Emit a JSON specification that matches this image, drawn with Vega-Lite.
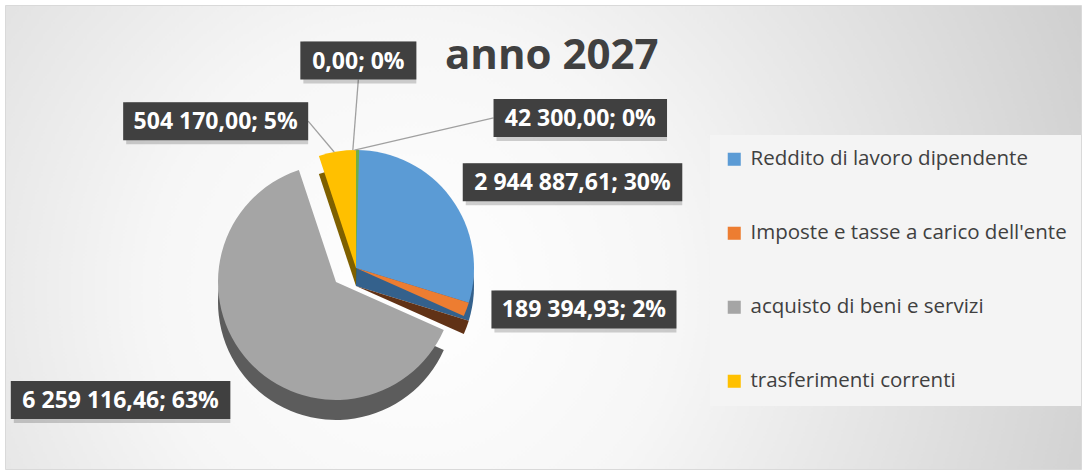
{
  "$schema": "https://vega.github.io/schema/vega-lite/v6.json",
  "width": 1076,
  "height": 464,
  "autosize": "none",
  "padding": {"left": 5, "top": 5, "right": 5, "bottom": 5},
  "background": "#ffffff",
  "title": {
    "text": "anno 2027",
    "anchor": "start",
    "frame": "group",
    "dx": 440,
    "offset": -106,
    "baseline": "alphabetic",
    "font": "Open Sans",
    "fontSize": 42,
    "fontWeight": "bold",
    "color": "#404040"
  },
  "config": {
    "locale": {"number": {"decimal": ",", "thousands": " ", "grouping": [3], "currency": ["", " €"]}},
    "font": "Open Sans",
    "view": {
      "fill": {
        "gradient": "radial",
        "x1": 0.38, "y1": 0.55, "r1": 0,
        "x2": 0.38, "y2": 0.55, "r2": 0.82,
        "stops": [
          {"offset": 0, "color": "#ffffff"},
          {"offset": 0.3, "color": "#f6f6f6"},
          {"offset": 1, "color": "#c2c2c2"}
        ]
      },
      "stroke": "#d9d9d9",
      "strokeWidth": 1
    }
  },
  "data": {
    "values": [
      {"cat": "Reddito di lavoro dipendente", "value": 2944887.61, "idx": 1},
      {"cat": "Imposte e tasse a carico dell'ente", "value": 189394.93, "idx": 2},
      {"cat": "acquisto di beni e servizi", "value": 6259116.46, "idx": 3},
      {"cat": "trasferimenti correnti", "value": 504170.00, "idx": 4},
      {"cat": "interessi passivi", "value": 0, "idx": 5},
      {"cat": "altre spese correnti", "value": 42300.00, "idx": 6}
    ]
  },
  "transform": [
    {"joinaggregate": [{"op": "sum", "field": "value", "as": "total"}]},
    {"window": [{"op": "sum", "field": "value", "as": "cum"}], "sort": [{"field": "idx", "order": "ascending"}], "frame": [null, 0]},
    {"calculate": "datum.cum - datum.value", "as": "cum0"},
    {"calculate": "(datum.cum - datum.value / 2) / datum.total * 2 * PI", "as": "mid"},
    {"calculate": "format(datum.value, ',.2f') + '; ' + format(datum.value / datum.total, '.0%')", "as": "label"},
    {"calculate": "datum.idx === 1 ? 8 : datum.idx === 2 ? -6 : datum.idx === 3 ? 6 : datum.idx === 4 ? -24 : datum.idx === 5 ? 2 : 48", "as": "nudge"},
    {"calculate": "datum.idx === 1 ? 1.05 : datum.idx === 2 ? 1 : datum.idx === 3 ? 1.15 : datum.idx === 4 ? 1.05 : datum.idx === 5 ? 1.22 : 1.3", "as": "f"},
    {"calculate": "datum.mid + datum.nudge * PI / 180", "as": "a"},
    {"calculate": "235 * datum.f * sin(datum.a) + (datum.idx === 3 ? -20 : 0)", "as": "lx"},
    {"calculate": "170 * datum.f * cos(datum.a) + (datum.idx === 3 ? -14 : 0)", "as": "ly"},
    {"calculate": "11.5 * length(datum.label) + 24", "as": "w"},
    {"calculate": "datum.lx - datum.w / 2", "as": "bx1"},
    {"calculate": "datum.lx + datum.w / 2", "as": "bx2"},
    {"calculate": "datum.ly - 19", "as": "by1"},
    {"calculate": "datum.ly + 19", "as": "by2"},
    {"calculate": "118 * sin(datum.mid)", "as": "sx"},
    {"calculate": "118 * cos(datum.mid)", "as": "sy"},
    {"calculate": "abs(sin(datum.a)) < 0.2 ? datum.lx : (sin(datum.a) > 0 ? datum.bx1 : datum.bx2)", "as": "ex2"},
    {"calculate": "abs(sin(datum.a)) < 0.2 ? datum.by1 : datum.ly", "as": "ey2"}
  ],
  "layer": [
    {
      "transform": [{"filter": "datum.idx !== 3"}],
      "mark": {"type": "arc", "radius": 118, "yOffset": 18},
      "encoding": {
        "theta": {"field": "cum0", "type": "quantitative"},
        "theta2": {"field": "cum"},
        "x": {"datum": 0, "type": "quantitative", "scale": {"domain": [-351, 725], "nice": false, "zero": false}, "axis": null},
        "y": {"datum": 0, "type": "quantitative", "scale": {"domain": [-201, 263], "nice": false, "zero": false}, "axis": null},
        "fill": {
          "field": "idx", "type": "nominal", "legend": null,
          "scale": {
            "domain": [1, 2, 3, 4, 5, 6],
            "range": ["#34618c", "#613216", "#5c5c5c", "#7f6000", "#203864", "#3f6427"]
          }
        }
      }
    },
    {
      "transform": [{"filter": "datum.idx === 3"}],
      "mark": {"type": "arc", "radius": 118, "xOffset": -20, "yOffset": 34},
      "encoding": {
        "theta": {"field": "cum0", "type": "quantitative"},
        "theta2": {"field": "cum"},
        "x": {"datum": 0, "type": "quantitative", "scale": {"domain": [-351, 725], "nice": false, "zero": false}, "axis": null},
        "y": {"datum": 0, "type": "quantitative", "scale": {"domain": [-201, 263], "nice": false, "zero": false}, "axis": null},
        "fill": {"field": "idx", "type": "nominal", "legend": null}
      }
    },
    {
      "transform": [{"filter": "datum.idx === 3"}],
      "mark": {"type": "arc", "radius": 118, "xOffset": -20, "yOffset": 14},
      "encoding": {
        "theta": {"field": "cum0", "type": "quantitative"},
        "theta2": {"field": "cum"},
        "x": {"datum": 0, "type": "quantitative", "scale": {"domain": [-351, 725], "nice": false, "zero": false}, "axis": null},
        "y": {"datum": 0, "type": "quantitative", "scale": {"domain": [-201, 263], "nice": false, "zero": false}, "axis": null},
        "color": {
          "field": "cat", "type": "nominal",
          "scale": {
            "domain": ["Reddito di lavoro dipendente", "Imposte e tasse a carico dell'ente", "acquisto di beni e servizi", "trasferimenti correnti", "interessi passivi", "altre spese correnti"],
            "range": ["#5b9bd5", "#ed7d31", "#a5a5a5", "#ffc000", "#4472c4", "#70ad47"]
          },
          "legend": {
            "values": ["Reddito di lavoro dipendente", "Imposte e tasse a carico dell'ente", "acquisto di beni e servizi", "trasferimenti correnti"],
            "orient": "none",
            "legendX": 705,
            "legendY": 130,
            "title": null,
            "symbolType": "square",
            "symbolSize": 170,
            "symbolOpacity": 1,
            "symbolStrokeWidth": 0,
            "labelFont": "Open Sans",
            "labelFontSize": 20.5,
            "labelColor": "#404040",
            "labelLimit": 400,
            "labelOffset": 6,
            "rowPadding": 53,
            "padding": 14,
            "fillColor": "#f4f4f4"
          }
        }
      }
    },
    {
      "transform": [{"filter": "datum.idx !== 3"}],
      "mark": {"type": "arc", "radius": 118},
      "encoding": {
        "theta": {"field": "cum0", "type": "quantitative"},
        "theta2": {"field": "cum"},
        "x": {"datum": 0, "type": "quantitative", "scale": {"domain": [-351, 725], "nice": false, "zero": false}, "axis": null},
        "y": {"datum": 0, "type": "quantitative", "scale": {"domain": [-201, 263], "nice": false, "zero": false}, "axis": null},
        "color": {
          "field": "cat", "type": "nominal",
          "legend": {
            "values": ["Reddito di lavoro dipendente", "Imposte e tasse a carico dell'ente", "acquisto di beni e servizi", "trasferimenti correnti"],
            "orient": "none",
            "legendX": 705,
            "legendY": 130,
            "title": null,
            "symbolType": "square",
            "symbolSize": 170,
            "symbolOpacity": 1,
            "symbolStrokeWidth": 0,
            "labelFont": "Open Sans",
            "labelFontSize": 20.5,
            "labelColor": "#404040",
            "labelLimit": 400,
            "labelOffset": 6,
            "rowPadding": 53,
            "padding": 14,
            "fillColor": "#f4f4f4"
          }
        }
      }
    },
    {
      "transform": [{"filter": "datum.idx >= 4"}],
      "mark": {"type": "rule", "color": "#a0a0a0", "strokeWidth": 1.3},
      "encoding": {
        "x": {"field": "sx", "type": "quantitative", "scale": {"domain": [-351, 725], "nice": false, "zero": false}, "axis": null},
        "y": {"field": "sy", "type": "quantitative", "scale": {"domain": [-201, 263], "nice": false, "zero": false}, "axis": null},
        "x2": {"field": "ex2"},
        "y2": {"field": "ey2"}
      }
    },
    {
      "mark": {"type": "rect", "color": "#000000", "opacity": 0.18, "xOffset": 3, "yOffset": 4},
      "encoding": {
        "x": {"field": "bx1", "type": "quantitative", "scale": {"domain": [-351, 725], "nice": false, "zero": false}, "axis": null},
        "x2": {"field": "bx2"},
        "y": {"field": "by1", "type": "quantitative", "scale": {"domain": [-201, 263], "nice": false, "zero": false}, "axis": null},
        "y2": {"field": "by2"}
      }
    },
    {
      "mark": {"type": "rect", "color": "#404040"},
      "encoding": {
        "x": {"field": "bx1", "type": "quantitative", "scale": {"domain": [-351, 725], "nice": false, "zero": false}, "axis": null},
        "x2": {"field": "bx2"},
        "y": {"field": "by1", "type": "quantitative", "scale": {"domain": [-201, 263], "nice": false, "zero": false}, "axis": null},
        "y2": {"field": "by2"}
      }
    },
    {
      "mark": {"type": "text", "font": "Open Sans", "fontWeight": "bold", "fontSize": 23, "color": "#ffffff", "align": "center", "baseline": "middle", "dy": 1},
      "encoding": {
        "x": {"field": "lx", "type": "quantitative", "scale": {"domain": [-351, 725], "nice": false, "zero": false}, "axis": null},
        "y": {"field": "ly", "type": "quantitative", "scale": {"domain": [-201, 263], "nice": false, "zero": false}, "axis": null},
        "text": {"field": "label", "type": "nominal"}
      }
    }
  ]
}
